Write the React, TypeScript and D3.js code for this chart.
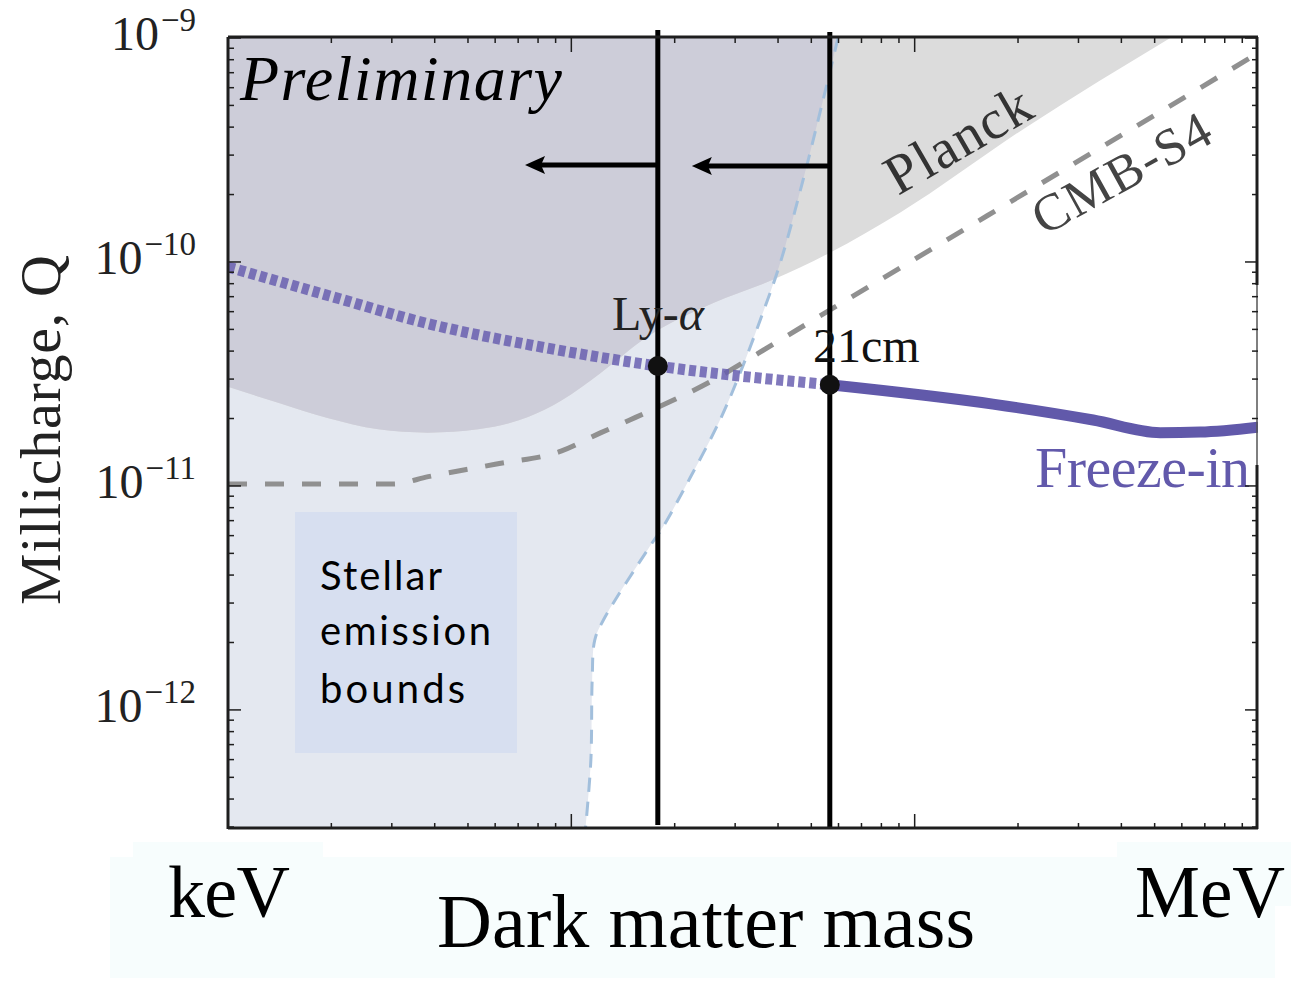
import React from 'react';
import * as d3 from 'd3';

const W = 1291;
const H = 981;
const plot = { left: 228, right: 1258, top: 38, bottom: 828 };

// x: dark matter mass (MeV), y: millicharge Q
const massDomain = [1e-3, 1];
const qDomain = [2.97e-13, 1e-9];
const qMajor = [1e-9, 1e-10, 1e-11, 1e-12];
const qMajorExp = ['−9', '−10', '−11', '−12'];
const massMajor = [1e-2, 1e-1];

// Planck exclusion, lower edge
const planckMass = [0.001, 0.0014, 0.00195, 0.00274, 0.00383, 0.00535, 0.00748, 0.00933, 0.0122, 0.0166, 0.0259, 0.0386, 0.0566, 0.0906, 0.212, 0.555];
const planckQ = [2.77e-11, 2.35e-11, 2.01e-11, 1.79e-11, 1.73e-11, 1.79e-11, 2.03e-11, 2.4e-11, 3.2e-11, 4.62e-11, 6.56e-11, 8.32e-11, 1.1e-10, 1.66e-10, 4.01e-10, 1e-9];

// stellar emission bound (blue dashed), from top to bottom
const stellarMass = [0.0598, 0.0541, 0.0473, 0.0406, 0.0355, 0.031, 0.0271, 0.0222, 0.0185, 0.0169, 0.0124, 0.0117, 0.0115, 0.0114, 0.011];
const stellarQ = [1e-9, 5.29e-10, 2.32e-10, 9.91e-11, 5.51e-11, 3.19e-11, 1.97e-11, 1.09e-11, 6.57e-12, 5.35e-12, 2.52e-12, 2.05e-12, 1.36e-12, 5.98e-13, 2.97e-13];

// CMB-S4 projection (gray dashed)
const cmbMass = [0.001, 0.00303, 0.00383, 0.006, 0.00933, 0.0122, 0.0148, 0.0259, 0.0406, 0.0906, 0.265, 0.98];
const cmbQ = [1.02e-11, 1.02e-11, 1.1e-11, 1.25e-11, 1.43e-11, 1.73e-11, 1.97e-11, 2.97e-11, 4.49e-11, 9.4e-11, 2.52e-10, 8.4e-10];

// freeze-in target
const freezeMass = [0.001, 0.00198, 0.00387, 0.00759, 0.01786, 0.0566, 0.169, 0.331, 0.519, 0.678, 1.0];
const freezeQ = [9.5e-11, 7.05e-11, 5.28e-11, 4.26e-11, 3.43e-11, 2.83e-11, 2.32e-11, 1.97e-11, 1.73e-11, 1.74e-11, 1.83e-11];

const lyaMass = 0.01786;
const cmMass = 0.0566;
const lyaQ = 3.43e-11;
const cmQ = 2.83e-11;
const arrowQ = 2.71e-10;
const lyaArrowTip = 0.00733;
const cmArrowTip = 0.02244;

const serif = '"Liberation Serif", "Times New Roman", serif';

export default function App() {
  const x = d3.scaleLog().domain(massDomain).range([plot.left, plot.right]);
  const y = d3.scaleLog().domain(qDomain).range([plot.bottom, plot.top]);

  const pts = (ms: number[], qs: number[]) => ms.map((m, i) => [x(m), y(qs[i])] as [number, number]);
  const smooth = d3.line().curve(d3.curveCatmullRom.alpha(0.5));
  const monoX = d3.line().curve(d3.curveMonotoneX);

  const planckPts = pts(planckMass, planckQ);
  const planckPath = monoX(planckPts) + `L${x(1e-3)},${y(1e-9)}Z`;
  const stellarPts = pts(stellarMass, stellarQ);
  const stellarPath = smooth(stellarPts) + `L${x(1e-3)},${y(qDomain[0])}L${x(1e-3)},${y(1e-9)}Z`;
  const cmbPath = monoX(pts(cmbMass, cmbQ)) as string;

  const fPts = pts(freezeMass, freezeQ);
  const splitIdx = freezeMass.indexOf(cmMass);
  const freezeDashed = monoX(fPts.slice(0, splitIdx + 1)) as string;
  const freezeSolid = monoX(fPts.slice(splitIdx)) as string;

  // log ticks
  const xMinor: number[] = [];
  for (let e = -3; e < 0; e++) for (let k = 2; k <= 9; k++) xMinor.push(k * Math.pow(10, e));
  const yMinor: number[] = [];
  for (let e = -13; e < -9; e++) for (let k = 2; k <= 9; k++) {
    const v = k * Math.pow(10, e);
    if (v > qDomain[0] && v < qDomain[1]) yMinor.push(v);
  }

  const ax = '#1e1e1e';
  const lyaX = x(lyaMass);
  const cmX = x(cmMass);

  return (
    <svg width={W} height={H} style={{ position: 'absolute', left: 0, top: 0, background: '#fff' }}>
      <defs>
        <clipPath id="plotClip">
          <rect x={plot.left} y={plot.top} width={plot.right - plot.left} height={plot.bottom - plot.top} />
        </clipPath>
        <clipPath id="stellarClip">
          <path d={stellarPath} />
        </clipPath>
      </defs>

      <g clipPath="url(#plotClip)">
        <path d={stellarPath} fill="#e4e8f0" />
        <path d={planckPath} fill="#dcdcdc" />
        <g clipPath="url(#stellarClip)">
          <path d={planckPath} fill="#cdcdd9" />
        </g>
        <path d={smooth(stellarPts) as string} fill="none" stroke="#a2bfdc" strokeWidth={3} strokeDasharray="14 10" />
        <path d={cmbPath} fill="none" stroke="#909090" strokeWidth={5} strokeDasharray="19 18" />
        <path d={freezeDashed} fill="none" stroke="#655cae" strokeOpacity={0.82} strokeWidth={11} strokeDasharray="7 4" />
        <path d={freezeSolid} fill="none" stroke="#6159aa" strokeWidth={11} strokeLinecap="round" />
      </g>

      {/* stellar emission box */}
      <rect x={295} y={512} width={222} height={241} fill="#d7dff0" />
      <g fontFamily='Lato, "Open Sans", sans-serif' fontSize={40} fill="#000">
        <text x={320} y={590} textLength={122}>Stellar</text>
        <text x={320} y={645} textLength={171}>emission</text>
        <text x={320} y={703} textLength={145}>bounds</text>
      </g>

      {/* vertical markers */}
      <line x1={lyaX} x2={lyaX} y1={30} y2={825} stroke="#000" strokeWidth={5} />
      <line x1={cmX} x2={cmX} y1={32} y2={829} stroke="#000" strokeWidth={5} />
      <circle cx={lyaX} cy={y(lyaQ)} r={10} fill="#111" />
      <circle cx={cmX} cy={y(cmQ)} r={10} fill="#111" />

      {/* arrows */}
      {[[lyaMass, lyaArrowTip], [cmMass, cmArrowTip]].map(([from, tip], i) => {
        const ay = y(arrowQ) + i;
        const tx = x(tip);
        return (
          <g key={i}>
            <line x1={x(from)} x2={tx + 14} y1={ay} y2={ay} stroke="#000" strokeWidth={5} />
            <path d={`M${tx},${ay}L${tx + 20},${ay - 9}L${tx + 16},${ay}L${tx + 20},${ay + 9}Z`} fill="#000" />
          </g>
        );
      })}

      {/* labels inside plot */}
      <text x={240} y={100} fontFamily={serif} fontStyle="italic" fontSize={64} textLength={322} fill="#000">Preliminary</text>
      <text x={612} y={330} fontFamily={serif} fontSize={48} fill="#222">
        Ly-<tspan fontStyle="italic">α</tspan>
      </text>
      <text x={813} y={362} fontFamily={serif} fontSize={48} fill="#111">21cm</text>
      <text transform="translate(898,196) rotate(-30)" fontFamily={serif} fontSize={56} textLength={160} fill="#333">Planck</text>
      <text transform="translate(1044,236) rotate(-29)" fontFamily={serif} fontSize={52} textLength={196} fill="#444">CMB-S4</text>
      <text x={1035} y={487} fontFamily={serif} fontSize={58} textLength={215} fill="#6259ab">Freeze-in</text>

      {/* frame */}
      <g stroke={ax} fill="none">
        <line x1={plot.left} x2={plot.left} y1={plot.top - 1} y2={plot.bottom + 1} strokeWidth={3} />
        <line x1={plot.left} x2={plot.right} y1={plot.top - 1} y2={plot.top - 1} strokeWidth={3} />
        <line x1={plot.left} x2={plot.right} y1={plot.bottom} y2={plot.bottom} strokeWidth={3} />
        <line x1={plot.right - 1} x2={plot.right - 1} y1={plot.top - 1} y2={285} strokeWidth={3} />
        <line x1={plot.right - 1} x2={plot.right - 1} y1={285} y2={465} strokeWidth={1.5} stroke="#555" />
        <line x1={plot.right - 1} x2={plot.right - 1} y1={465} y2={plot.bottom + 1} strokeWidth={3} />
        {xMinor.map((m) => (
          <g key={'xm' + m} strokeWidth={1.5}>
            <line x1={x(m)} x2={x(m)} y1={plot.bottom} y2={plot.bottom - 5} />
            <line x1={x(m)} x2={x(m)} y1={plot.top} y2={plot.top + 5} />
          </g>
        ))}
        {massMajor.map((m) => (
          <g key={'xM' + m} strokeWidth={1.5}>
            <line x1={x(m)} x2={x(m)} y1={plot.bottom} y2={plot.bottom - 14} />
            <line x1={x(m)} x2={x(m)} y1={plot.top} y2={plot.top + 14} />
          </g>
        ))}
        {yMinor.map((q) => (
          <g key={'ym' + q} strokeWidth={1.5}>
            <line x1={plot.left} x2={plot.left + 6} y1={y(q)} y2={y(q)} />
            <line x1={plot.right} x2={plot.right - 6} y1={y(q)} y2={y(q)} />
          </g>
        ))}
        {qMajor.map((q) => (
          <g key={'yM' + q} strokeWidth={1.5}>
            <line x1={plot.left} x2={plot.left + 13} y1={y(q)} y2={y(q)} />
            <line x1={plot.right} x2={plot.right - 13} y1={y(q)} y2={y(q)} />
          </g>
        ))}
      </g>

      {/* y tick labels */}
      {qMajor.map((q, i) => (
        <text key={'yl' + q} x={196} y={y(q) + 12} textAnchor="end" fontFamily={serif} fill="#222">
          <tspan fontSize={48}>10</tspan>
          <tspan fontSize={33} dy={-19} dx={2}>{qMajorExp[i]}</tspan>
        </text>
      ))}

      <text transform="translate(60,430) rotate(-90)" textAnchor="middle" fontFamily={serif} fontSize={58} textLength={350} fill="#222">
        Millicharge, Q
      </text>

      {/* x label panel */}
      <g fill="#f7fdfd">
        <rect x={110} y={857} width={1165} height={121} />
        <rect x={133} y={842} width={190} height={20} />
        <rect x={1117} y={842} width={174} height={64} />
      </g>
      <text x={168} y={917} fontFamily={serif} fontSize={74} textLength={122} fill="#000">keV</text>
      <text x={1135} y={917} fontFamily={serif} fontSize={73} textLength={150} fill="#000">MeV</text>
      <text x={437} y={947} fontFamily={serif} fontSize={76} textLength={538} fill="#000">Dark matter mass</text>
    </svg>
  );
}
